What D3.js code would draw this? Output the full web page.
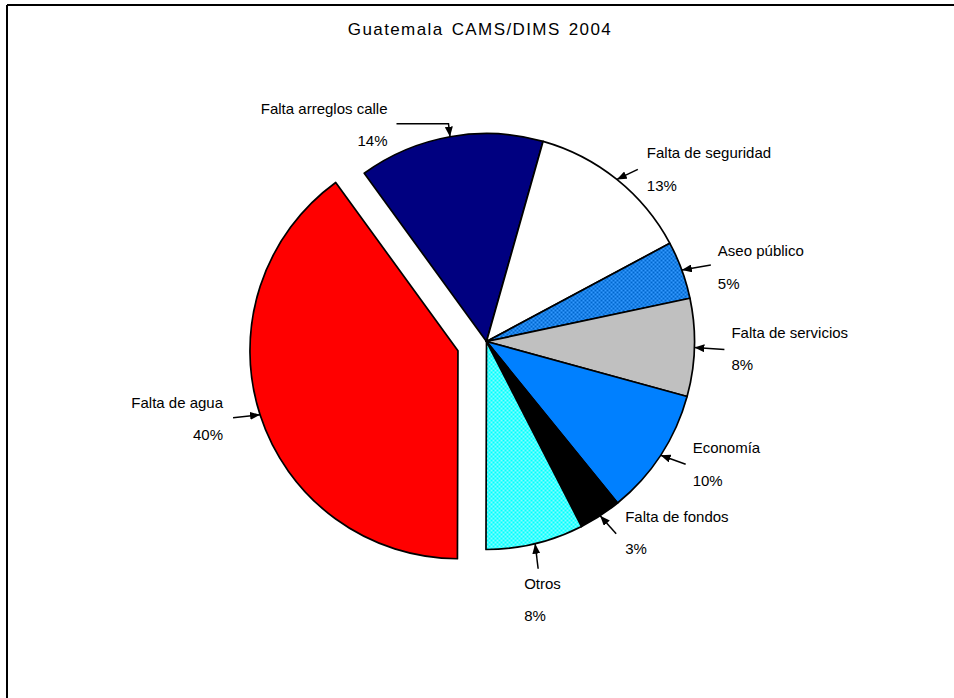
<!DOCTYPE html>
<html>
<head>
<meta charset="utf-8">
<script src="https://cdn.jsdelivr.net/npm/d3@7"></script>
<style>
  body{margin:0;background:#fff;}
  svg{display:block;font-family:"Liberation Sans",Arial,sans-serif;}
</style>
</head>
<body>
<svg id="piechart" width="954" height="698"></svg>
<script>
// chart data
var categories=["Falta arreglos calle","Falta de seguridad","Aseo público","Falta de servicios","Economía","Falta de fondos","Otros","Falta de agua"];
var values=[14.4,12.8,4.5,7.6,9.9,3.3,7.6,40];
var pctLabels=["14%","13%","5%","8%","10%","3%","8%","40%"];

// look of each slice
var fills=["#000080","#ffffff","url(#dotBlue)","#c0c0c0","#0080ff","#000000","url(#dotCyan)","#ff0000"];
var explode=[0,0,0,0,0,0,0,30];
// leader line (relative to arrow tip) and label placement (relative to line tail)
var leaders=[
    {pts:[[-53.5,-13],[-1.5,-13],[0,0]],txt:[-9,-10],anchor:"end"},
    {pts:[[21,-10],[0,0]],txt:[9,-11],anchor:"start"},
    {pts:[[29,-5],[0,0]],txt:[7,-9],anchor:"start"},
    {pts:[[30,2],[0,0]],txt:[7,-12],anchor:"start"},
    {pts:[[25,9],[0,0]],txt:[7,-11],anchor:"start"},
    {pts:[[16,18],[0,0]],txt:[9,-12],anchor:"start"},
    {pts:[[3,25],[0,0]],txt:[-14,20],anchor:"start"},
    {pts:[[-27,3],[0,0]],txt:[-10,-10],anchor:"end"}
];

function piechart(){
    var svg=d3.select("#piechart"),
    cx=486.5,
    cy=341.5,
    radius=208,
    startDeg=-36;

    // patterns for the dotted slices
    var defs=svg.append("defs");
    function checker(id,c1,c2){
        var p=defs.append("pattern").attr("id",id)
            .attr("width",4).attr("height",4)
            .attr("patternUnits","userSpaceOnUse");
        p.append("rect").attr("width",4).attr("height",4).attr("fill",c1);
        p.append("rect").attr("width",2).attr("height",2).attr("fill",c2);
        p.append("rect").attr("x",2).attr("y",2).attr("width",2).attr("height",2).attr("fill",c2);
    }
    checker("dotBlue","#3399ff","#0066cc");
    checker("dotCyan","#00ffff","#80ffff");

    defs.append("marker").attr("id","arrow")
        .attr("viewBox","0 0 10 8")
        .attr("refX",10).attr("refY",4)
        .attr("markerWidth",10).attr("markerHeight",8)
        .attr("markerUnits","userSpaceOnUse")
        .attr("orient","auto")
        .append("path").attr("d","M0,0L10,4L0,8z").attr("fill","#000");

    // frame
    svg.append("line").attr("x1",7).attr("y1",5).attr("x2",954).attr("y2",5)
        .attr("stroke","#000").attr("stroke-width",2);
    svg.append("line").attr("x1",7).attr("y1",5).attr("x2",7).attr("y2",698)
        .attr("stroke","#000").attr("stroke-width",2);

    // title
    svg.append("text")
        .attr("x",480).attr("y",35)
        .attr("text-anchor","middle")
        .attr("font-size","17px")
        .attr("letter-spacing","1.4px")
        .attr("word-spacing","2px")
        .attr("fill","#000")
        .text("Guatemala CAMS/DIMS 2004");

    var a0=startDeg*Math.PI/180;
    var pie=d3.pie().sort(null).startAngle(a0).endAngle(a0+2*Math.PI)
        .value(function(d){return d;});
    var arcs=pie(values);
    var arc=d3.arc().innerRadius(0).outerRadius(radius);

    var g=svg.append("g").attr("transform","translate("+cx+","+cy+")");

    function shift(d,i){
        var m=(d.startAngle+d.endAngle)/2;
        return [Math.sin(m)*explode[i],-Math.cos(m)*explode[i]];
    }

    // slices
    g.selectAll(".slice")
        .data(arcs)
        .enter().append("path")
        .attr("class","slice")
        .attr("transform",function(d,i){var s=shift(d,i);return "translate("+s[0]+","+s[1]+")";})
        .attr("d",arc)
        .attr("fill",function(d,i){return fills[i];})
        .attr("stroke","#000")
        .attr("stroke-width",1.7)
        .attr("stroke-linejoin","round");

    // leader lines with arrowheads and labels
    arcs.forEach(function(d,i){
        var m=(d.startAngle+d.endAngle)/2;
        var s=shift(d,i);
        var tip=[s[0]+Math.sin(m)*radius,s[1]-Math.cos(m)*radius];
        var L=leaders[i];
        var pts=L.pts.map(function(p){return [tip[0]+p[0],tip[1]+p[1]];});
        g.append("path")
            .attr("d",d3.line()(pts))
            .attr("fill","none")
            .attr("stroke","#000")
            .attr("stroke-width",1.5)
            .attr("marker-end","url(#arrow)");
        var tail=pts[0];
        var t=g.append("text")
            .attr("text-anchor",L.anchor)
            .attr("font-size","15px")
            .attr("fill","#000");
        t.append("tspan").attr("x",tail[0]+L.txt[0]).attr("y",tail[1]+L.txt[1]).text(categories[i]);
        t.append("tspan").attr("x",tail[0]+L.txt[0]).attr("y",tail[1]+L.txt[1]+32.5).text(pctLabels[i]);
    });
}
piechart();
</script>
</body>
</html>
